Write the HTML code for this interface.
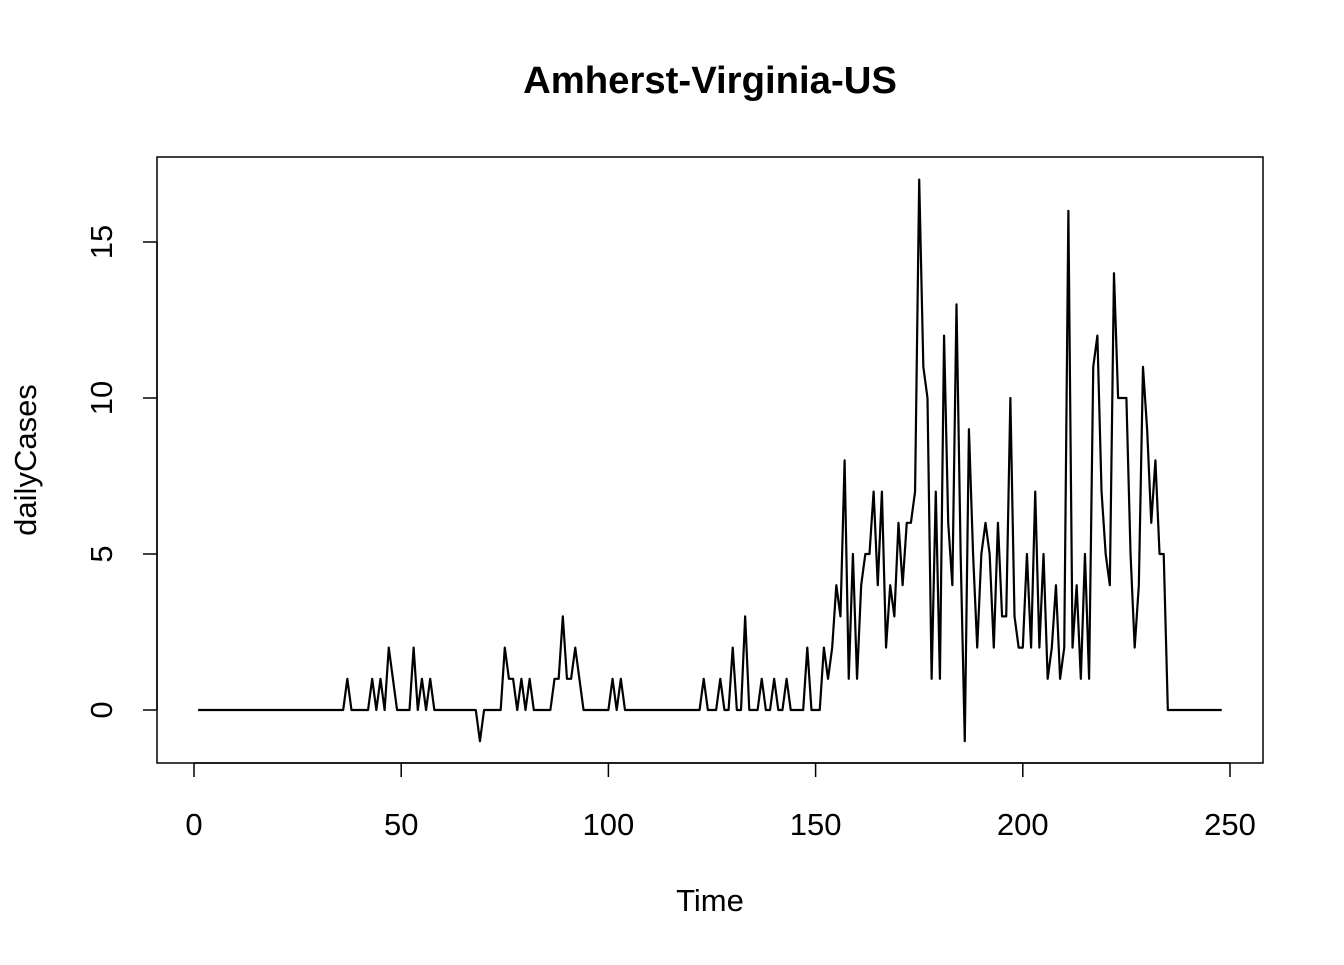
<!DOCTYPE html>
<html><head><meta charset="utf-8"><style>
html,body{margin:0;padding:0;background:#fff}
svg text{font-family:"Liberation Sans",Arial,sans-serif;fill:#000}
</style></head><body>
<svg id="chart" width="1344" height="960" viewBox="0 0 1344 960" xmlns="http://www.w3.org/2000/svg">
<rect width="1344" height="960" fill="#fff"/>
<text x="710" y="93" text-anchor="middle" font-size="38.3" font-weight="bold">Amherst-Virginia-US</text>
<text x="710" y="911" text-anchor="middle" font-size="31">Time</text>
<text transform="translate(36,460) rotate(-90)" text-anchor="middle" font-size="31">dailyCases</text>
<rect x="157" y="157" width="1106" height="606" fill="none" stroke="#000" stroke-width="1.5"/>
<g id="xaxis"></g>
<g id="yaxis"></g>
<g id="series"></g>
</svg>
<script>
const xTicks=[0,50,100,150,200,250];
const yTicks=[0,5,10,15];
const dailyCases=[
0,0,0,0,0,0,0,0,0,0, 0,0,0,0,0,0,0,0,0,0, 0,0,0,0,0,0,0,0,0,0, 0,0,0,0,0,0,1,0,0,0,
0,0,1,0,1,0,2,1,0,0, 0,0,2,0,1,0,1,0,0,0, 0,0,0,0,0,0,0,0,-1,0, 0,0,0,0,2,1,1,0,1,0,
1,0,0,0,0,0,1,1,3,1, 1,2,1,0,0,0,0,0,0,0, 1,0,1,0,0,0,0,0,0,0, 0,0,0,0,0,0,0,0,0,0,
0,0,1,0,0,0,1,0,0,2, 0,0,3,0,0,0,1,0,0,1, 0,0,1,0,0,0,0,2,0,0, 0,2,1,2,4,3,8,1,5,1,
4,5,5,7,4,7,2,4,3,6, 4,6,6,7,17,11,10,1,7,1, 12,6,4,13,5,-1,9,5,2,5, 6,5,2,6,3,3,10,3,2,2,
5,2,7,2,5,1,2,4,1,2, 16,2,4,1,5,1,11,12,7,5, 4,14,10,10,10,5,2,4,11,9, 6,8,5,5,0,0,0,0,0,0,
0,0,0,0,0,0,0,0];
const times=dailyCases.map((_,i)=>i+1);
const NS='http://www.w3.org/2000/svg';
const xs=v=>194+(v-0)*(1230-194)/250;
const ys=v=>710-(v-0)*(710-242)/15;
function mk(tag,attrs,parent){const e=document.createElementNS(NS,tag);for(const k in attrs)e.setAttribute(k,attrs[k]);parent.appendChild(e);return e;}
const xg=document.getElementById('xaxis'),yg=document.getElementById('yaxis'),sg=document.getElementById('series');
mk('line',{x1:xs(xTicks[0]),x2:xs(xTicks[xTicks.length-1]),y1:763,y2:763,stroke:'#000','stroke-width':1.5},xg);
xTicks.forEach(t=>{
  const l=mk('line',{x1:xs(t),x2:xs(t),y1:763,y2:777,stroke:'#000','stroke-width':1.5},xg);
  
  
  const tx=mk('text',{x:xs(t),y:835,'text-anchor':'middle','font-size':31},xg);
  tx.textContent=t;
  
  
});
mk('line',{x1:157,x2:157,y1:ys(yTicks[0]),y2:ys(yTicks[yTicks.length-1]),stroke:'#000','stroke-width':1.5},yg);
yTicks.forEach(t=>{
  const l=mk('line',{x1:143,x2:157,y1:ys(t),y2:ys(t),stroke:'#000','stroke-width':1.5},yg);
  
  
  const tx=mk('text',{transform:`translate(112,${ys(t)}) rotate(-90)`,'text-anchor':'middle','font-size':31},yg);
  tx.textContent=t;
  
  
});
const pts=times.map((t,i)=>xs(t).toFixed(2)+','+ys(dailyCases[i]).toFixed(2)).join(' ');
const pl=mk('polyline',{points:pts,fill:'none',stroke:'#000','stroke-width':2.2,'stroke-linejoin':'round'},sg);


</script>
</body></html>
